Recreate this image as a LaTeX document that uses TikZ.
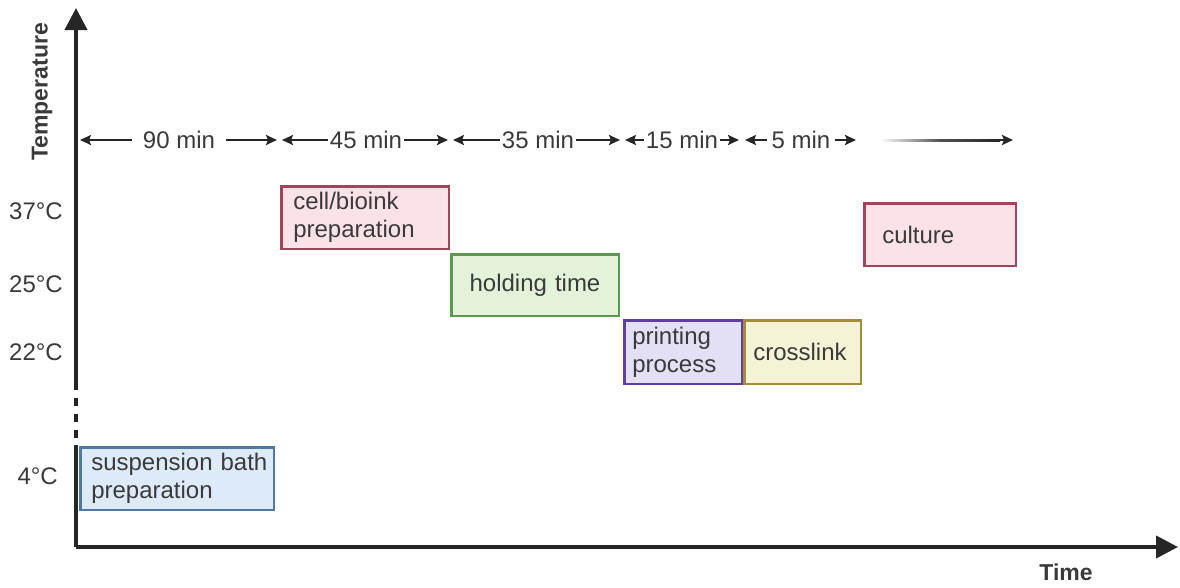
\documentclass[tikz,border=0pt]{standalone}
\usepackage{fontspec}
\setmainfont{Liberation Sans}
\usetikzlibrary{arrows.meta}
\definecolor{txt}{HTML}{3A3A3A}
\definecolor{axis}{HTML}{262626}
\definecolor{bluefill}{HTML}{DDEBF8}\definecolor{blueline}{HTML}{4E79A7}
\definecolor{pinkfill}{HTML}{FBE1E8}\definecolor{pinkline}{HTML}{A3445D}
\definecolor{greenfill}{HTML}{E2F3DA}\definecolor{greenline}{HTML}{5B9A4E}
\definecolor{purplefill}{HTML}{E3E0F6}\definecolor{purpleline}{HTML}{5E3FA3}
\definecolor{yellowfill}{HTML}{F5F3D6}\definecolor{yellowline}{HTML}{A68B3D}
\tikzset{
  lbl/.style={text=txt, font=\fontsize{24}{28}\selectfont},
  bold lbl/.style={text=txt, font=\fontsize{23}{28}\selectfont\bfseries},
  axisline/.style={draw=axis, line width=4pt},
  axisarrow/.style={axisline, -{Triangle[length=22pt,width=22pt]}},
  tarrow/.style={draw=axis, line width=2pt, -{Stealth[length=11pt,width=10pt,inset=2pt]}},
  tlabel/.style={lbl, inner xsep=2pt, inner ysep=0pt},
  phase/.style={lbl, draw, line width=2.5pt, anchor=north west, align=left,
    minimum height=#1, inner ysep=0pt, outer sep=0pt},
}
\begin{document}
\begin{tikzpicture}[x=1pt,y=-1pt]
\useasboundingbox (0,0) rectangle (1180,587);
% axes
\coordinate (o) at (76,547);
\coordinate (ytop) at (76,8);
\coordinate (xend) at (1178,547);
\coordinate (ysolidtop) at (76,445);
\coordinate (ydashlow) at (76,438);
\coordinate (ydashhigh) at (76,384);
\draw[axisline, line cap=butt] (o) -- (ysolidtop);
\draw[axisline, dash pattern=on 8pt off 8pt] (ydashlow) -- (ydashhigh);
\draw[axisarrow] (ydashhigh) -- (ytop);
\draw[axisarrow] (o) -- (xend);
\node[bold lbl, rotate=90] (templbl) at (42,92) {Temperature};
\node[bold lbl] (timelbl) at (1066,572) {Time};
% temperature labels
\node[lbl, anchor=east, inner sep=0pt] (t37) at (63,211) {37°C};
\node[lbl, anchor=east, inner sep=0pt] (t25) at (63,284) {25°C};
\node[lbl, anchor=east, inner sep=0pt] (t22) at (63,352) {22°C};
\node[lbl, anchor=east, inner sep=0pt] (t4) at (58,476) {4°C};
% time intervals
\coordinate (a0) at (80,140);
\coordinate (a1) at (277,140);
\coordinate (a1b) at (282,140);
\coordinate (a2) at (448,140);
\coordinate (a2b) at (453,140);
\coordinate (a3) at (620,140);
\coordinate (a3b) at (625,140);
\coordinate (a4) at (739,140);
\coordinate (a4b) at (745,140);
\coordinate (a5) at (856,140);
\node[tlabel, inner xsep=11pt] (m90) at (179,140) {90 min};
\node[tlabel] (m45) at (366,140) {45 min};
\node[tlabel] (m35) at (538,140) {35 min};
\node[tlabel] (m15) at (682,140) {15 min};
\node[tlabel, inner xsep=4pt] (m5) at (801,140) {5 min};
\foreach \n/\l/\r in {m90/a0/a1, m45/a1b/a2, m35/a2b/a3, m15/a3b/a4, m5/a4b/a5}{
  \draw[tarrow] (\n.west) -- (\l);
  \draw[tarrow] (\n.east) -- (\r);
}
% culture arrow with fading shaft
\shade[left color=white, right color=axis, middle color=axis!80] (880,139) rectangle (1000,141);
\coordinate (c1) at (999,140);
\coordinate (c2) at (1013,140);
\draw[tarrow] (c1) -- (c2);
% phases
\node[phase=62.5pt, fill=bluefill, draw=blueline, inner xsep=11pt, text width=171.5pt] (bath) at (80.25,447.25)
  {\mbox{suspension bath}\\preparation};
\node[phase=62.5pt, fill=pinkfill, draw=pinkline, inner xsep=12pt, text width=143.5pt] (cell) at (281.25,186.25)
  {cell/bioink\\preparation};
\node[phase=61.5pt, fill=greenfill, draw=greenline, inner xsep=0pt, text width=167.5pt, align=center] (hold) at (451.25,254.25)
  {holding time};
\node[phase=63.5pt, fill=purplefill, draw=purpleline, inner xsep=8pt, text width=101.5pt] (print) at (624.25,320.25)
  {printing\\process};
\node[phase=63.5pt, fill=yellowfill, draw=yellowline, inner xsep=9pt, text width=98.5pt] (cross) at (744.25,320.25)
  {crosslink};
\node[phase=62.5pt, fill=pinkfill, draw=pinkline, inner xsep=18pt, text width=115.5pt] (cult) at (864.25,203.25)
  {culture};
\end{tikzpicture}
\end{document}
